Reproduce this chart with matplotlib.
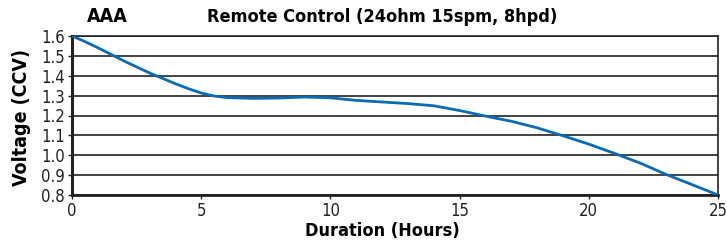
import matplotlib
matplotlib.use("Agg")
import matplotlib.pyplot as plt

hours = [0, 0.5, 1, 1.5, 2, 3, 4, 4.5, 5, 5.5, 6, 7, 8, 9, 10, 11, 12, 13, 14, 15, 16, 17, 18, 19, 20, 21, 22, 23, 24, 25]
voltage = [1.6, 1.572, 1.541, 1.508, 1.475, 1.414, 1.36, 1.335, 1.313, 1.298, 1.29, 1.286, 1.288, 1.293, 1.289,
           1.276, 1.268, 1.26, 1.249, 1.225, 1.197, 1.171, 1.138, 1.098, 1.056, 1.009, 0.96, 0.903, 0.852, 0.80]
xticks = [0, 5, 10, 15, 20, 25]
yticks = [0.8, 0.9, 1.0, 1.1, 1.2, 1.3, 1.4, 1.5, 1.6]

plt.rcParams['font.family'] = ['DejaVu Sans']
plt.rcParams['font.stretch'] = 'condensed'

W, H = 727, 246
fig = plt.figure(figsize=(W / 100, H / 100), dpi=100)
ax = fig.add_axes([72 / W, (H - 195) / H, (718 - 72) / W, (195 - 36) / H])

ax.plot(hours, voltage, color='#0a6ab4', lw=2.0, zorder=3, solid_joinstyle='round')
ax.set_xlim(0, 25)
ax.set_ylim(0.8, 1.6)
ax.set_xticks(xticks)
ax.set_yticks(yticks)
ax.set_yticklabels([f"{v:.1f}" for v in yticks])
for y in yticks:
    ax.axhline(y, color='#222222', lw=1.2, zorder=1)
ax.tick_params(axis='both', labelsize=12, length=3, width=1, colors='#222222', pad=2)
ax.spines['left'].set_linewidth(2.2)
ax.spines['bottom'].set_linewidth(2.0)
ax.spines['top'].set_linewidth(1.2)
ax.spines['right'].set_linewidth(1.2)
for s in ax.spines.values():
    s.set_color('#222222')

ax.set_xlabel('Duration (Hours)', fontsize=13, fontweight='bold')
ax.xaxis.set_label_coords((382 - 72) / (718 - 72), -(222 - 195) / (195 - 36))
ax.set_ylabel('Voltage (CCV)', fontsize=14, fontweight='bold')
ax.yaxis.set_label_coords(-(72 - 31) / (718 - 72), (195 - 118) / (195 - 36))
fig.text(87 / W, (H - 17) / H, 'AAA', fontsize=14, fontweight='bold', ha='left', va='center')
fig.text(382 / W, (H - 17) / H, 'Remote Control (24ohm 15spm, 8hpd)', fontsize=13, fontweight='bold',
         ha='center', va='center')

fig.savefig('out.png', dpi=100)
